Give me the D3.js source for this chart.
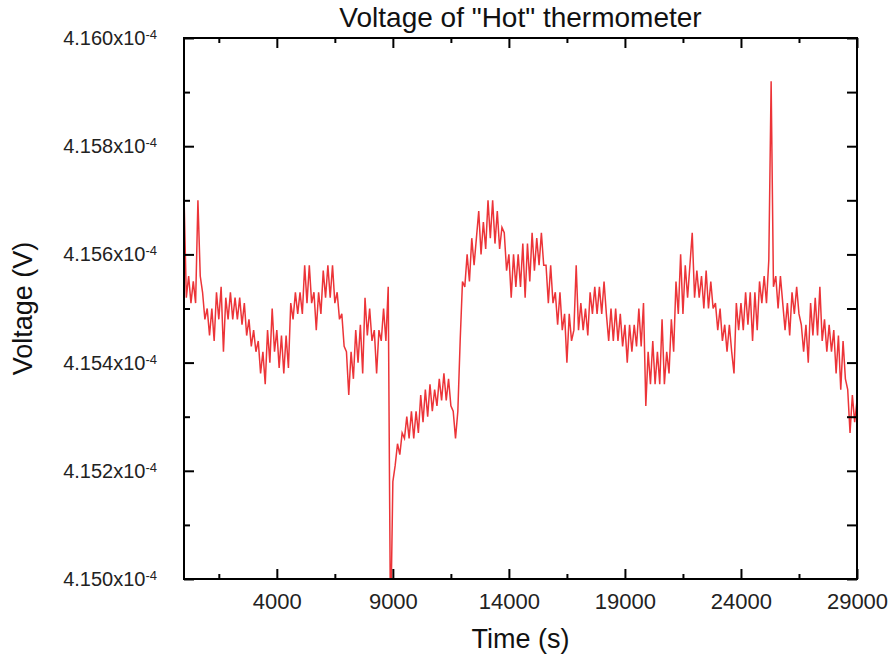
<!DOCTYPE html>
<html>
<head>
<meta charset="utf-8">
<script src="https://cdn.jsdelivr.net/npm/d3@7"></script>
<style>
  html, body { margin: 0; padding: 0; background: #fff; }
  svg { display: block; font-family: "Liberation Sans", Arial, sans-serif; }
</style>
</head>
<body>
<svg id="chart" width="891" height="660"></svg>
<script>
// ---- Data (voltage in microvolts; 415.50 µV = 4.1550x10^-4 V) ----
const startTime = 0;      // s
const timeStep = 100;     // s between readings
const voltage = [
  415.71, 415.52, 415.56, 415.51, 415.55, 415.51, 415.70, 415.56, 415.53, 415.48,
  415.50, 415.45, 415.50, 415.44, 415.53, 415.48, 415.54, 415.42, 415.52, 415.48,
  415.53, 415.48, 415.52, 415.48, 415.52, 415.47, 415.51, 415.45, 415.48, 415.43,
  415.46, 415.42, 415.44, 415.38, 415.42, 415.36, 415.46, 415.40, 415.50, 415.42,
  415.46, 415.39, 415.45, 415.38, 415.45, 415.39, 415.51, 415.48, 415.53, 415.49,
  415.53, 415.49, 415.58, 415.51, 415.58, 415.51, 415.53, 415.46, 415.53, 415.49,
  415.57, 415.52, 415.58, 415.52, 415.58, 415.51, 415.53, 415.48, 415.49, 415.43,
  415.42, 415.34, 415.42, 415.37, 415.46, 415.40, 415.47, 415.38, 415.52, 415.45,
  415.50, 415.44, 415.46, 415.38, 415.46, 415.44, 415.50, 415.44, 415.54, 414.90,
  415.18, 415.21, 415.25, 415.23, 415.27, 415.26, 415.30, 415.26, 415.31, 415.26,
  415.31, 415.27, 415.34, 415.29, 415.35, 415.30, 415.36, 415.31, 415.35, 415.32,
  415.37, 415.33, 415.38, 415.33, 415.37, 415.32, 415.31, 415.26, 415.31, 415.44,
  415.55, 415.54, 415.60, 415.55, 415.63, 415.58, 415.63, 415.68, 415.60, 415.66,
  415.61, 415.70, 415.63, 415.70, 415.62, 415.68, 415.61, 415.65, 415.64, 415.57,
  415.60, 415.52, 415.60, 415.54, 415.60, 415.54, 415.62, 415.52, 415.62, 415.55,
  415.64, 415.57, 415.63, 415.58, 415.64, 415.58, 415.58, 415.51, 415.58, 415.51,
  415.53, 415.47, 415.53, 415.46, 415.49, 415.40, 415.49, 415.44, 415.46, 415.58,
  415.46, 415.51, 415.46, 415.50, 415.45, 415.53, 415.49, 415.54, 415.49, 415.54,
  415.49, 415.55, 415.49, 415.44, 415.50, 415.44, 415.50, 415.44, 415.49, 415.43,
  415.47, 415.40, 415.47, 415.42, 415.47, 415.43, 415.50, 415.43, 415.51, 415.32,
  415.42, 415.36, 415.44, 415.36, 415.42, 415.36, 415.48, 415.36, 415.42, 415.38,
  415.48, 415.42, 415.55, 415.49, 415.60, 415.49, 415.58, 415.52, 415.58, 415.64,
  415.52, 415.57, 415.52, 415.56, 415.50, 415.57, 415.50, 415.55, 415.50, 415.51,
  415.46, 415.50, 415.44, 415.47, 415.42, 415.47, 415.42, 415.38, 415.51, 415.46,
  415.51, 415.46, 415.53, 415.47, 415.53, 415.44, 415.53, 415.46, 415.55, 415.51,
  415.56, 415.51, 415.59, 415.92, 415.54, 415.56, 415.50, 415.56, 415.51, 415.46,
  415.51, 415.45, 415.53, 415.49, 415.54, 415.49, 415.47, 415.42, 415.47, 415.40,
  415.51, 415.45, 415.52, 415.45, 415.54, 415.44, 415.48, 415.42, 415.47, 415.42,
  415.46, 415.38, 415.45, 415.35, 415.44, 415.37, 415.35, 415.27, 415.34, 415.29,
  415.33
];
const xDomain = [0, 29000];
const yDomain = [415.0, 416.0];
const xMajorTicks = [4000, 9000, 14000, 19000, 24000, 29000];
const xMinorTicks = [1500, 6500, 11500, 16500, 21500, 26500];
const yMajorTicks = [415.0, 415.2, 415.4, 415.6, 415.8, 416.0];
const yMinorTicks = [415.1, 415.3, 415.5, 415.7, 415.9];
const title = 'Voltage of "Hot" thermometer';
const xTitle = "Time (s)";
const yTitle = "Voltage (V)";

// ---- Layout ----
const svg = d3.select("#chart");
const m = { left: 184, top: 38, right: 857, bottom: 579 };
const W = m.right - m.left, H = m.bottom - m.top;
const g = svg.append("g").attr("transform", `translate(${m.left},${m.top})`);

const x = d3.scaleLinear().domain(xDomain).range([0, W]);
const y = d3.scaleLinear().domain(yDomain).range([H, 0]);

const points = voltage.map((v, i) => [startTime + i * timeStep, v]);

svg.append("defs").append("clipPath").attr("id", "clip")
  .append("rect").attr("width", W).attr("height", H);

g.append("path")
  .datum(points)
  .attr("clip-path", "url(#clip)")
  .attr("fill", "none")
  .attr("stroke", "#ec3438")
  .attr("stroke-width", 1.5)
  .attr("stroke-linejoin", "miter")
  .attr("d", d3.line().x(d => x(d[0])).y(d => y(d[1])));

// ---- Axes ----
function styleAxis(sel, fs) {
  sel.select(".domain").remove();
  sel.selectAll(".tick line").attr("stroke", "#000").attr("stroke-width", 2);
  sel.selectAll(".tick text").attr("fill", "#222").attr("font-size", fs || 22)
     .attr("font-family", '"Liberation Sans", Arial, sans-serif');
}

// bottom
g.append("g").attr("transform", `translate(0,${H})`)
  .call(d3.axisBottom(x).tickValues(xMajorTicks).tickSize(-10).tickPadding(14).tickFormat(d3.format("d")))
  .call(styleAxis, 22);
g.append("g").attr("transform", `translate(0,${H})`)
  .call(d3.axisBottom(x).tickValues(xMinorTicks).tickSize(-5).tickFormat(""))
  .call(styleAxis);
// top
g.append("g")
  .call(d3.axisTop(x).tickValues(xMajorTicks).tickSize(-10).tickFormat(""))
  .call(styleAxis);
g.append("g")
  .call(d3.axisTop(x).tickValues(xMinorTicks).tickSize(-5).tickFormat(""))
  .call(styleAxis);
// left
const yl = g.append("g")
  .call(d3.axisLeft(y).tickValues(yMajorTicks).tickSize(-10).tickPadding(27)
        .tickFormat(d => (d / 100).toFixed(3) + "x10"))
  .call(styleAxis, 20);
yl.selectAll(".tick text").append("tspan")
  .attr("dy", "-0.45em").attr("font-size", 13).text("-4");
g.append("g")
  .call(d3.axisLeft(y).tickValues(yMinorTicks).tickSize(-6).tickFormat(""))
  .call(styleAxis);
// right
g.append("g").attr("transform", `translate(${W},0)`)
  .call(d3.axisRight(y).tickValues(yMajorTicks.concat(yMinorTicks)).tickSize(-10).tickFormat(""))
  .call(styleAxis);

// frame
g.append("rect").attr("width", W).attr("height", H)
  .attr("fill", "none").attr("stroke", "#000").attr("stroke-width", 2);

// ---- Titles ----
svg.append("text").attr("x", m.left + W / 2).attr("y", 27)
  .attr("text-anchor", "middle").attr("font-size", 28).attr("fill", "#111").text(title);
svg.append("text").attr("x", m.left + W / 2).attr("y", 648)
  .attr("text-anchor", "middle").attr("font-size", 27).attr("fill", "#111").text(xTitle);
svg.append("text")
  .attr("transform", `translate(32,${m.top + H / 2}) rotate(-90)`)
  .attr("text-anchor", "middle").attr("font-size", 27).attr("fill", "#111").text(yTitle);
</script>
</body>
</html>
